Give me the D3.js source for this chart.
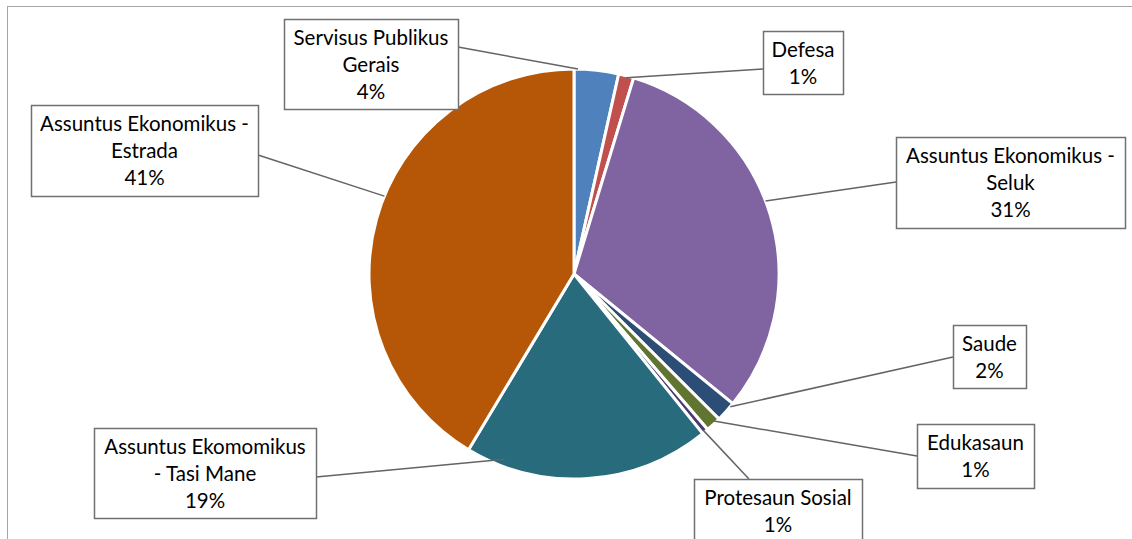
<!DOCTYPE html>
<html>
<head>
<meta charset="utf-8">
<script src="https://cdn.jsdelivr.net/npm/d3@7"></script>
<style>
  html, body { margin: 0; padding: 0; background: #fff; }
  svg { display: block; }
</style>
</head>
<body>
<svg id="chart" width="1132" height="539"></svg>
<script>
// ---- data ----
const categories = [
  "Servisus Publikus Gerais",
  "Defesa",
  "Assuntus Ekonomikus - Seluk",
  "Saude",
  "Edukasaun",
  "Protesaun Sosial",
  "Assuntus Ekomomikus - Tasi Mane",
  "Assuntus Ekonomikus - Estrada"
];
const values = [3.5, 1.2, 31.2, 1.6, 1.2, 0.5, 19.4, 41.4];
const pctLabels = ["4%", "1%", "31%", "2%", "1%", "1%", "19%", "41%"];
const labelLines = [
  ["Servisus Publikus", "Gerais"],
  ["Defesa"],
  ["Assuntus Ekonomikus -", "Seluk"],
  ["Saude"],
  ["Edukasaun"],
  ["Protesaun Sosial"],
  ["Assuntus Ekomomikus", "- Tasi Mane"],
  ["Assuntus Ekonomikus -", "Estrada"]
];
const colors = ["#4F81BD", "#C0504D", "#8064A2", "#2C4D75", "#5F7530", "#4A3B6E", "#276B7C", "#B65708"];

// ---- layout (label boxes: x, y, w, h; leader attach offsets; anchor on slice) ----
const boxes = [
  [284, 19, 174, 90],
  [763, 31, 80, 63],
  [896, 137, 229, 91],
  [953, 325, 73, 63],
  [917, 424, 117, 64],
  [694, 479, 168, 90],
  [94, 428, 222, 90],
  [31, 105, 227, 91]
];
const attach = [[174, 28], [0, 38], [0, 45], [0, 32], [0, 32], [55, 0], [222, 49], [227, 50]];
const anchorT = [0.09, 0.53, 0.465, 0.19, 0.33, 0.6, 0.85, 0.546];
const anchorR = [1.0, 0.99, 1.0, 1.0, 0.99, 0.99, 0.965, 1.0];

const W = 1132, H = 539;
const cx = 574, cy = 274, R = 205;

const svg = d3.select("#chart");

// outer frame
svg.append("rect")
  .attr("x", 7.5).attr("y", 6.5)
  .attr("width", W).attr("height", H)
  .attr("fill", "none").attr("stroke", "#A6A6A6").attr("stroke-width", 1);

const pie = d3.pie().sort(null).value(d => d)(values);
const arc = d3.arc().innerRadius(0).outerRadius(R);

const g = svg.append("g").attr("transform", `translate(${cx},${cy})`);
g.selectAll("path.slice")
  .data(pie)
  .join("path")
  .attr("class", "slice")
  .attr("d", arc)
  .attr("fill", (d, i) => colors[i])
  .attr("stroke", "#fff")
  .attr("stroke-width", 3)
  .attr("stroke-linejoin", "miter");

// leader lines
pie.forEach((d, i) => {
  const a = d.startAngle + anchorT[i] * (d.endAngle - d.startAngle);
  const rr = R * anchorR[i];
  const px = cx + rr * Math.sin(a), py = cy - rr * Math.cos(a);
  const b = boxes[i];
  svg.append("line")
    .attr("x1", b[0] + attach[i][0]).attr("y1", b[1] + attach[i][1])
    .attr("x2", px).attr("y2", py)
    .attr("stroke", "#646464").attr("stroke-width", 1.5);
});

// label boxes
const lineH = 27;
boxes.forEach((b, i) => {
  svg.append("rect")
    .attr("x", b[0] + 0.5).attr("y", b[1] + 0.5)
    .attr("width", b[2]).attr("height", b[3])
    .attr("fill", "#fff").attr("stroke", "#707070").attr("stroke-width", 1.5);
  const lines = labelLines[i].concat([pctLabels[i]]);
  const t = svg.append("text")
    .attr("text-anchor", "middle")
    .attr("font-family", "Lato, 'Open Sans', sans-serif")
    .attr("font-size", 20.5)
    .attr("fill", "#000");
  lines.forEach((ln, k) => {
    t.append("tspan")
      .attr("x", b[0] + b[2] / 2)
      .attr("y", b[1] + 25.5 + k * lineH)
      .text(ln);
  });
});
</script>
</body>
</html>
